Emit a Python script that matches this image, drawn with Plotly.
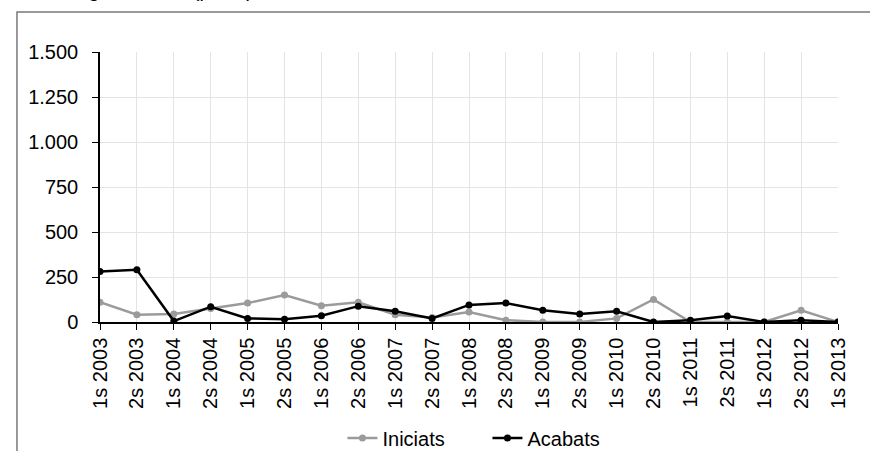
import plotly.graph_objects as go

# Semesters on the category axis
periods = [
    "1s 2003", "2s 2003", "1s 2004", "2s 2004", "1s 2005", "2s 2005",
    "1s 2006", "2s 2006", "1s 2007", "2s 2007", "1s 2008", "2s 2008",
    "1s 2009", "2s 2009", "1s 2010", "2s 2010", "1s 2011", "2s 2011",
    "1s 2012", "2s 2012", "1s 2013",
]

# Dwellings started per semester
iniciats = [110, 40, 45, 75, 105, 150, 90, 110, 40, 25, 55, 10,
            0, 0, 20, 125, 0, 0, 0, 65, 0]

# Dwellings completed per semester
acabats = [280, 290, 5, 85, 20, 15, 35, 88, 60, 20, 95, 105,
           65, 45, 60, 0, 10, 33, 0, 10, 0]

y_ticks = [0, 250, 500, 750, 1000, 1250, 1500]
y_tick_text = ["0", "250", "500", "750", "1.000", "1.250", "1.500"]

FONT = "Liberation Sans Narrow, Arial Narrow, Liberation Sans, Arial, sans-serif"
FS = 20

fig = go.Figure()
fig.add_trace(go.Scatter(
    x=periods, y=iniciats, name="Iniciats", mode="lines+markers",
    line=dict(color="#9b9b9b", width=2.5),
    marker=dict(color="#9b9b9b", size=7),
))
fig.add_trace(go.Scatter(
    x=periods, y=acabats, name="Acabats", mode="lines+markers",
    line=dict(color="#000000", width=2.5),
    marker=dict(color="#000000", size=7),
))

fig.update_layout(
    width=870, height=451,
    margin=dict(l=100, r=32, t=52, b=129, autoexpand=False),
    paper_bgcolor="white", plot_bgcolor="white",
    font=dict(family=FONT, size=FS, color="#000000"),
    showlegend=True,
    legend=dict(orientation="h", x=0.525, xanchor="center", y=-0.43,
                yanchor="middle", font=dict(size=FS),
                entrywidth=100, entrywidthmode="pixels",
                bgcolor="rgba(0,0,0,0)"),
    annotations=[dict(text="Habitatges iniciats (pisos)", xref="paper", yref="paper",
                      x=-0.105, xanchor="left", y=1.183, yanchor="bottom",
                      showarrow=False,
                      font=dict(family="Liberation Sans, Arial, sans-serif",
                                size=20, color="#000"))],
    shapes=[dict(type="rect", xref="paper", yref="paper",
                 x0=-0.1125, x1=1.2, y0=-0.8, y1=1.148,
                 line=dict(color="#7a7a7a", width=1.5), layer="below")],
)

fig.update_xaxes(
    type="category", range=[0, 20], automargin=False,
    showgrid=True, gridcolor="#e4e4e4", gridwidth=1,
    showline=True, linecolor="#000000", linewidth=1.5,
    ticks="outside", ticklen=6, tickcolor="#000000",
    tickangle=-90, tickfont=dict(size=FS), zeroline=False,
)
fig.update_yaxes(
    range=[0, 1500], tickvals=y_ticks, ticktext=y_tick_text, automargin=False,
    showgrid=True, gridcolor="#e4e4e4", gridwidth=1,
    showline=True, linecolor="#000000", linewidth=1.5,
    ticks="outside", ticklen=6, tickcolor="#000000",
    ticklabelstandoff=10, tickfont=dict(size=FS), zeroline=False,
)

fig.write_html("out.html")
